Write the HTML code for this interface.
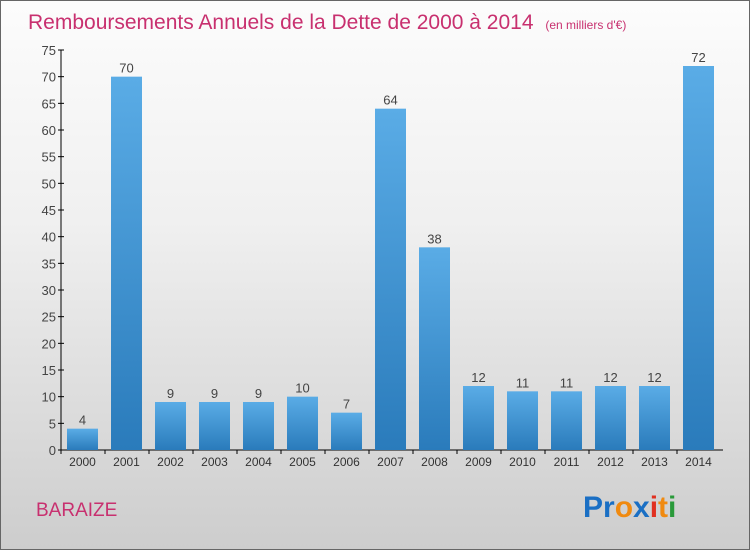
<!DOCTYPE html>
<html><head><meta charset="utf-8"><style>
body{margin:0}
#c{width:748px;height:548px;border:1px solid #666;position:relative;background:linear-gradient(#fcfcfc,#f0f0f0 40%,#cdcdcd);font-family:"Liberation Sans",sans-serif;overflow:hidden}
</style></head><body>
<div id="c">
<svg id="s" width="748" height="548" style="position:absolute;left:0;top:0">
<defs><linearGradient id="g" x1="0" y1="0" x2="0" y2="1"><stop offset="0" stop-color="#5aace6"/><stop offset="1" stop-color="#2a7bbb"/></linearGradient></defs>
<text x="27" y="28" font-size="21" fill="#c8306f">Remboursements Annuels de la Dette de 2000 à 2014 <tspan font-size="12" dx="6">(en milliers d'€)</tspan></text>
<text x="35" y="515" font-size="19" fill="#c8306f">BARAIZE</text>
<g font-size="30" font-family="'Liberation Sans',sans-serif" font-weight="bold">
<text x="582" y="516"><tspan fill="#1a6fc4">Pr</tspan><tspan fill="#f08a10">o</tspan><tspan fill="#1a6fc4">x</tspan><tspan fill="#e03020">i</tspan><tspan fill="#f08a10">t</tspan><tspan fill="#2a9a3a">i</tspan></text></g>
<g id="ax"></g><g id="bars"></g>
</svg></div>
<script>
const years=["2000","2001","2002","2003","2004","2005","2006","2007","2008","2009","2010","2011","2012","2013","2014"];
const values=[4,70,9,9,9,10,7,64,38,12,11,11,12,12,72];
const yTicks=[0,5,10,15,20,25,30,35,40,45,50,55,60,65,70,75];
const NS="http://www.w3.org/2000/svg";
const x0=60,step=44,bw=31,yb=449,ppu=400/75;
const y=v=>yb-v*ppu, x=i=>x0+6+i*step;
function mk(t,a,p,txt){const e=document.createElementNS(NS,t);for(const k in a)e.setAttribute(k,a[k]);if(txt!=null)e.textContent=txt;p.appendChild(e);return e;}
const ax=document.getElementById('ax'),bars=document.getElementById('bars');
let l=mk('line',{x1:x0,y1:y(75),x2:x0,y2:yb,stroke:'#000'},ax);


l=mk('line',{x1:x0,y1:yb,x2:x0+15*step+2,y2:yb,stroke:'#000'},ax);


yTicks.forEach(v=>{mk('line',{x1:x0-3,y1:y(v),x2:x0+3,y2:y(v),stroke:'#000'},ax);
const t=mk('text',{x:x0-5,y:y(v)+5,'text-anchor':'end','font-size':13,fill:'#444'},ax,v);

});
years.forEach((yr,i)=>{
const r=mk('rect',{x:x(i),y:y(values[i]),width:bw,height:values[i]*ppu,fill:'url(#g)'},bars);


mk('line',{x1:x(i)-6,y1:yb,x2:x(i)-6,y2:yb+4,stroke:'#000'},ax);
const t=mk('text',{x:x(i)+bw/2,y:yb+16,'text-anchor':'middle','font-size':12,fill:'#333'},ax,yr);


const v=mk('text',{x:x(i)+bw/2,y:y(values[i])-4,'text-anchor':'middle','font-size':13,fill:'#444'},bars,values[i]);


});
</script></body></html>
